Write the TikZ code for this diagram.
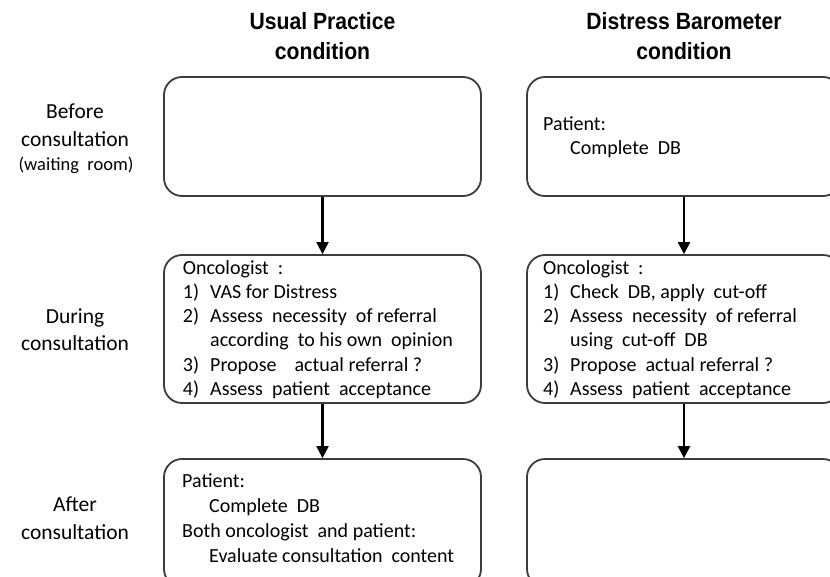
\documentclass[tikz,border=0pt]{standalone}
\usepackage{fontspec}
\setmainfont{Carlito}
\newfontfamily\headfont[FakeStretch=0.9]{Liberation Sans}
\usetikzlibrary{arrows.meta}
\definecolor{boxgray}{HTML}{3C3C3C}
\begin{document}
\begin{tikzpicture}[x=1pt,y=-1pt,
  phasebox/.style={draw=boxgray,line width=1.8pt,rounded corners=18pt,inner sep=0pt,minimum width=#1},
  ln/.style={anchor=base west,inner sep=0pt,font=\fontsize{20}{24}\selectfont},
  side/.style={anchor=base,inner sep=0pt,font=\fontsize{21.5}{26}\selectfont},
  head/.style={anchor=base,inner sep=0pt,font=\headfont\bfseries\fontsize{23.5}{28}\selectfont},
  flow/.style={draw=black,line width=2.2pt,-{Triangle[length=12pt,width=12pt]}}]
\useasboundingbox (0,0) rectangle (830,576);
\clip (0,0) rectangle (830,576);
% headings
\node[head] (h1a) at (322.5,29) {Usual Practice};
\node[head] (h1b) at (322.5,59) {condition};
\node[head] (h2a) at (684,29) {Distress Barometer};
\node[head] (h2b) at (684,59) {condition};
% side labels
\node[side] (s1a) at (75,118) {Before};
\node[side] (s1b) at (75,146) {consultation};
\node[side,font=\fontsize{18.5}{22}\selectfont] (s1c) at (76,170) {(waiting\ \ room)};
\node[side] (s2a) at (75,323) {During};
\node[side] (s2b) at (75,350) {consultation};
\node[side] (s3a) at (75,511) {After};
\node[side] (s3b) at (75,539) {consultation};
% boxes
\node[phasebox=317pt,minimum height=119pt] (ub) at (322.5,136.5) {};
\node[phasebox=314pt,minimum height=119pt] (db) at (684,136.5) {};
\node[phasebox=317pt,minimum height=148pt] (ud) at (322.5,329) {};
\node[phasebox=314pt,minimum height=148pt] (dd) at (684,329) {};
\node[phasebox=317pt,minimum height=128pt] (ua) at (322.5,523) {};
\node[phasebox=314pt,minimum height=128pt] (da) at (684,523) {};
% arrows
\draw[flow] (ub.south) -- (ud.north);
\draw[flow] (db.south) -- (dd.north);
\draw[flow] (ud.south) -- (ua.north);
\draw[flow] (dd.south) -- (da.north);
% right top
\node[ln] (dbp) at (543,130) {Patient:};
\node[ln] (dbc) at (570,154) {Complete\ \ DB};
% left middle
\node[ln] (uo) at (182.7,274) {Oncologist\ \ :};
\node[ln] (un1) at (182.7,298.3) {1)};
\node[ln] (ut1) at (210,298.3) {VAS for Distress};
\node[ln] (un2) at (182.7,322.6) {2)};
\node[ln] (ut2) at (210,322.6) {Assess\ \ necessity\ \ of referral};
\node[ln] (ut2b) at (210,346.9) {according\ \ to his own\ \ opinion};
\node[ln] (un3) at (182.7,371.2) {3)};
\node[ln] (ut3) at (210,371.2) {Propose\ \ \ \ actual referral ?};
\node[ln] (un4) at (182.7,395.5) {4)};
\node[ln] (ut4) at (210,395.5) {Assess\ \ patient\ \ acceptance};
% right middle
\node[ln] (do) at (543,274) {Oncologist\ \ :};
\node[ln] (dn1) at (543,298.3) {1)};
\node[ln] (dt1) at (570,298.3) {Check\ \ DB, apply\ \ cut-off};
\node[ln] (dn2) at (543,322.6) {2)};
\node[ln] (dt2) at (570,322.6) {Assess\ \ necessity\ \ of referral};
\node[ln] (dt2b) at (570,346.9) {using\ \ cut-off\ \ DB};
\node[ln] (dn3) at (543,371.2) {3)};
\node[ln] (dt3) at (570,371.2) {Propose\ \ actual referral ?};
\node[ln] (dn4) at (543,395.5) {4)};
\node[ln] (dt4) at (570,395.5) {Assess\ \ patient\ \ acceptance};
% left bottom
\node[ln] (uap) at (182,487) {Patient:};
\node[ln] (uac) at (209,512) {Complete\ \ DB};
\node[ln] (uab) at (182,537) {Both oncologist\ \ and patient:};
\node[ln] (uae) at (209,562) {Evaluate consultation\ \ content};
\end{tikzpicture}
\end{document}
